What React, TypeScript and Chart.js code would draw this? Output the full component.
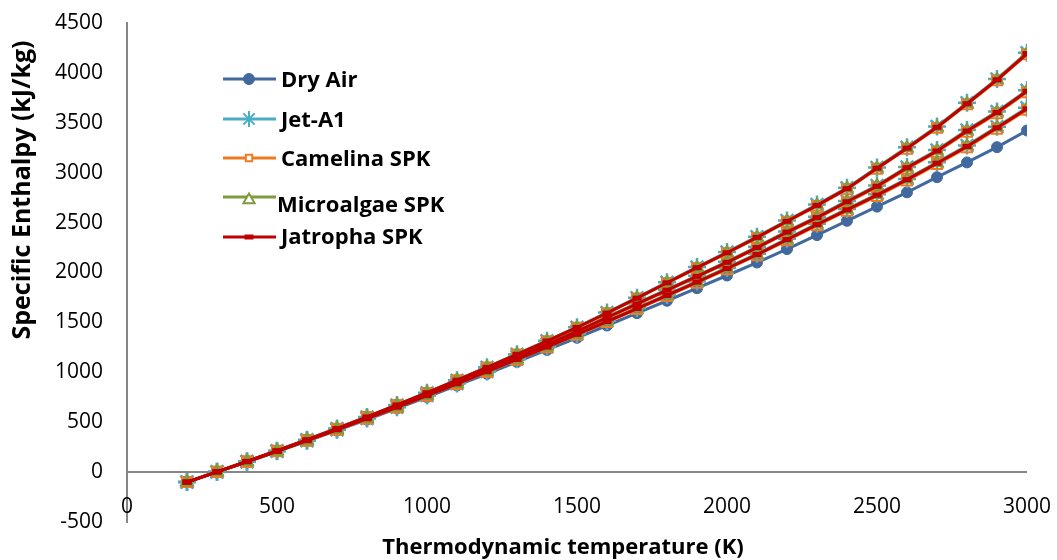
import React, { useEffect, useRef } from 'react';
import { Chart, registerables } from 'chart.js';
import { drawPoint } from 'chart.js/helpers';

Chart.register(...registerables);

// Thermodynamic temperature (K)
const temperatures = [200, 300, 400, 500, 600, 700, 800, 900, 1000, 1100, 1200, 1300, 1400, 1500, 1600, 1700, 1800, 1900, 2000, 2100, 2200, 2300, 2400, 2500, 2600, 2700, 2800, 2900, 3000];

// Specific enthalpy (kJ/kg)
const dryAir = [-100, 2, 103, 206, 311, 418, 527, 639, 752, 868, 985, 1104, 1224, 1346, 1469, 1593, 1717, 1843, 1970, 2100, 2235, 2375, 2518, 2660, 2803, 2955, 3103, 3256, 3423];

const jetA1Low = [-100, 2, 104, 208, 315, 425, 536, 651, 767, 887, 1008, 1132, 1256, 1384, 1513, 1644, 1775, 1910, 2046, 2187, 2337, 2488, 2636, 2783, 2938, 3104, 3272, 3460, 3650];
const jetA1Mid = [-100, 3, 106, 211, 319, 430, 544, 661, 780, 903, 1027, 1155, 1283, 1415, 1553, 1690, 1828, 1967, 2108, 2257, 2412, 2558, 2717, 2872, 3057, 3227, 3427, 3612, 3826];
const jetA1High = [-100, 3, 107, 214, 324, 437, 553, 673, 795, 921, 1050, 1181, 1315, 1452, 1598, 1748, 1902, 2054, 2205, 2359, 2521, 2681, 2848, 3053, 3255, 3464, 3700, 3940, 4203];

const camelinaLow = [-100, 2, 104, 208, 314, 423, 534, 648, 764, 883, 1003, 1126, 1250, 1376, 1504, 1634, 1764, 1898, 2033, 2173, 2322, 2472, 2619, 2766, 2921, 3086, 3254, 3440, 3630];
const camelinaMid = [-100, 3, 106, 211, 318, 429, 542, 659, 777, 899, 1022, 1149, 1277, 1407, 1545, 1680, 1818, 1955, 2096, 2244, 2398, 2543, 2701, 2856, 3041, 3210, 3409, 3594, 3806];
const camelinaHigh = [-100, 3, 107, 214, 323, 436, 552, 672, 794, 920, 1048, 1178, 1311, 1447, 1591, 1740, 1893, 2044, 2194, 2347, 2508, 2668, 2834, 3039, 3240, 3449, 3685, 3925, 4186];

const microalgaeLow = [-100, 2, 104, 208, 315, 424, 535, 650, 766, 886, 1007, 1130, 1254, 1382, 1511, 1641, 1772, 1907, 2043, 2183, 2333, 2484, 2632, 2779, 2934, 3099, 3267, 3455, 3645];
const microalgaeMid = [-100, 3, 106, 211, 319, 430, 543, 660, 779, 902, 1026, 1153, 1281, 1413, 1551, 1688, 1826, 1964, 2105, 2253, 2408, 2554, 2713, 2868, 3053, 3222, 3422, 3607, 3820];
const microalgaeHigh = [-100, 3, 107, 214, 324, 437, 553, 673, 795, 922, 1050, 1181, 1314, 1450, 1595, 1745, 1899, 2050, 2200, 2355, 2516, 2676, 2843, 3048, 3249, 3458, 3694, 3934, 4197];

const jatrophaLow = [-100, 2, 104, 208, 315, 424, 535, 650, 766, 885, 1006, 1129, 1253, 1380, 1509, 1639, 1770, 1904, 2040, 2180, 2330, 2480, 2628, 2775, 2930, 3095, 3263, 3450, 3640];
const jatrophaMid = [-100, 3, 106, 211, 319, 430, 543, 660, 779, 901, 1025, 1152, 1280, 1411, 1549, 1685, 1823, 1961, 2102, 2250, 2405, 2550, 2709, 2864, 3049, 3218, 3418, 3603, 3816];
const jatrophaHigh = [-100, 3, 107, 214, 324, 437, 553, 673, 795, 921, 1049, 1180, 1313, 1449, 1594, 1743, 1897, 2048, 2198, 2352, 2513, 2673, 2840, 3045, 3246, 3455, 3691, 3931, 4193];

const seriesNames = ['Dry Air', 'Jet-A1', 'Camelina SPK', 'Microalgae SPK', 'Jatropha SPK'];

const yTickMin = -500;
const yTickMax = 4500;
const yTickStep = 500;
const xTickMin = 0;
const xTickMax = 3000;
const xTickStep = 500;

const xTitle = 'Thermodynamic temperature (K)';
const yTitle = 'Specific Enthalpy (kJ/kg)';

const FONT = "'Open Sans', 'DejaVu Sans', sans-serif";

type MarkerStyle = {
  color: string;
  pointStyle: string;
  radius: number;
  pointBorderWidth: number;
  filled: boolean;
};

const styles: MarkerStyle[] = [
  { color: '#41699E', pointStyle: 'circle', radius: 5.5, pointBorderWidth: 1, filled: true },
  { color: '#4BACC6', pointStyle: 'star', radius: 9, pointBorderWidth: 2.5, filled: false },
  { color: '#EE7B22', pointStyle: 'rect', radius: 7, pointBorderWidth: 2, filled: false },
  { color: '#7E9C3E', pointStyle: 'triangle', radius: 6.5, pointBorderWidth: 2, filled: false },
  { color: '#C00000', pointStyle: 'line', radius: 4.5, pointBorderWidth: 5, filled: true },
];

const seriesGroups: number[][][] = [
  [dryAir],
  [jetA1Low, jetA1Mid, jetA1High],
  [camelinaLow, camelinaMid, camelinaHigh],
  [microalgaeLow, microalgaeMid, microalgaeHigh],
  [jatrophaLow, jatrophaMid, jatrophaHigh],
];

function buildDatasets() {
  const out: any[] = [];
  let idx = 0;
  seriesGroups.forEach((group, s) => {
    const st = styles[s];
    group.forEach((values) => {
      out.push({
        label: seriesNames[s],
        data: temperatures.map((t, i) => ({ x: t, y: values[i] })),
        borderColor: st.color,
        backgroundColor: st.color,
        borderWidth: 3,
        pointStyle: st.pointStyle,
        pointRadius: st.radius,
        pointHoverRadius: st.radius,
        pointBorderWidth: st.pointBorderWidth,
        pointBorderColor: st.color,
        pointBackgroundColor: st.filled ? st.color : 'rgba(0,0,0,0)',
        order: 100 - idx,
        tension: 0,
      });
      idx++;
    });
  });
  return out;
}

// Zero line, x tick labels, axis titles and the in-plot legend
const decorations = {
  id: 'decorations',
  beforeDatasetsDraw(chart: any) {
    const { ctx, chartArea, scales } = chart;
    const y0 = scales.y.getPixelForValue(0);
    ctx.save();
    ctx.strokeStyle = '#868686';
    ctx.lineWidth = 2;
    ctx.beginPath();
    ctx.moveTo(chartArea.left, y0);
    ctx.lineTo(chartArea.right, y0);
    ctx.stroke();
    ctx.restore();
  },
  afterDraw(chart: any) {
    const { ctx, scales } = chart;
    ctx.save();

    // x tick labels sit below the zero line, near the bottom of the plot
    ctx.fillStyle = '#000';
    ctx.font = `21px ${FONT}`;
    ctx.textAlign = 'center';
    ctx.textBaseline = 'middle';
    scales.x.ticks.forEach((t: any) => {
      ctx.fillText(String(t.value), scales.x.getPixelForValue(t.value), 507);
    });

    ctx.font = `bold 22px ${FONT}`;
    ctx.textAlign = 'center';
    ctx.textBaseline = 'alphabetic';
    ctx.fillText(xTitle, 563, 554);

    ctx.save();
    ctx.translate(30, 190);
    ctx.rotate(-Math.PI / 2);
    ctx.font = `bold 25px ${FONT}`;
    ctx.textBaseline = 'alphabetic';
    ctx.fillText(yTitle, 0, 0);
    ctx.restore();

    // legend
    const lineY = [79, 119, 158, 197, 237];
    const textY = [87, 127, 166, 212, 244];
    const textX = [281, 281, 281, 277, 281];
    const markerDy = [0, 0, 0, 3, 0];
    const markerR = [5.5, 8, 4.5, 6.5, 4.5];
    const x1 = 223;
    const x2 = 276;
    const mx = 249;
    seriesNames.forEach((name, i) => {
      const st = styles[i];
      ctx.strokeStyle = st.color;
      ctx.lineWidth = 3;
      ctx.beginPath();
      ctx.moveTo(x1, lineY[i]);
      ctx.lineTo(x2, lineY[i]);
      ctx.stroke();
      ctx.fillStyle = st.filled ? st.color : '#fff';
      ctx.strokeStyle = st.color;
      ctx.lineWidth = i === 1 ? 2 : st.pointBorderWidth;
      drawPoint(ctx, { pointStyle: st.pointStyle, rotation: 0, radius: markerR[i], borderWidth: ctx.lineWidth }, mx, lineY[i] + markerDy[i]);
      ctx.fillStyle = '#000';
      ctx.font = `bold 22px ${FONT}`;
      ctx.textAlign = 'left';
      ctx.fillText(name, textX[i], textY[i]);
    });
    ctx.restore();
  },
};

function noScalePadding(scale: any) {
  scale.paddingTop = 0;
  scale.paddingBottom = 0;
  scale.paddingLeft = 0;
  scale.paddingRight = 0;
}

export default function App() {
  const canvasRef = useRef<HTMLCanvasElement | null>(null);

  useEffect(() => {
    const canvas = canvasRef.current;
    if (!canvas) return;
    const chart = new Chart(canvas, {
      type: 'line',
      data: { datasets: buildDatasets() },
      options: {
        animation: false,
        responsive: true,
        maintainAspectRatio: false,
        layout: { autoPadding: false, padding: { top: 23, right: 30, left: 0, bottom: 0 } },
        plugins: {
          legend: { display: false },
          tooltip: { enabled: false },
        },
        scales: {
          x: {
            type: 'linear',
            min: xTickMin,
            max: xTickMax,
            grid: { display: false, drawTicks: false },
            border: { display: false },
            ticks: {
              stepSize: xTickStep,
              display: false,
            },
            afterFit(scale: any) {
              scale.height = 38;
              noScalePadding(scale);
            },
          },
          y: {
            type: 'linear',
            min: yTickMin,
            max: yTickMax,
            grid: { display: false, drawTicks: false },
            border: { display: true, color: '#868686', width: 2 },
            ticks: {
              stepSize: yTickStep,
              color: '#000',
              font: { family: FONT, size: 21 },
              padding: 24,
              callback: (v: any) => String(v),
            },
            afterFit(scale: any) {
              scale.width = 127;
              noScalePadding(scale);
            },
          },
        },
      },
      plugins: [decorations],
    } as any);
    return () => chart.destroy();
  }, []);

  return (
    <div style={{ position: 'fixed', left: 0, top: 0, width: 1057, height: 560, background: '#fff' }}>
      <canvas ref={canvasRef} />
    </div>
  );
}
